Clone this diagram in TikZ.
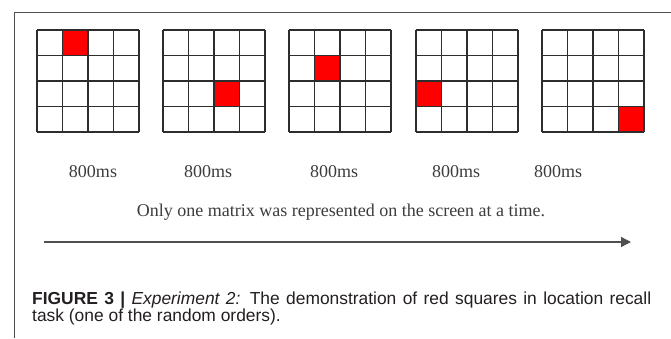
\documentclass[tikz,border=0pt]{standalone}
\usepackage{fontspec}
\setmainfont{Liberation Serif}
\newfontfamily\capfont{Liberation Sans}
\usetikzlibrary{arrows.meta}
\definecolor{cgrid}{RGB}{45,45,45}
\definecolor{cred}{RGB}{255,0,0}
\definecolor{cframe}{RGB}{80,80,80}
\definecolor{ctext}{RGB}{60,60,60}
\definecolor{ccap}{RGB}{35,31,32}

\tikzset{
  cellline/.style={cgrid, line width=1.8pt},
  lbl/.style={font=\fontsize{18}{21}\selectfont, text=ctext, inner sep=0pt},
  caption/.style={font=\capfont\fontsize{17.4}{20}\selectfont, text=ccap,
    anchor=base west, inner sep=0pt}
}

\begin{document}
\begin{tikzpicture}[x=1pt, y=-1pt]
\useasboundingbox (0,0) rectangle (671,338);
\draw[cframe, line width=1pt] (14,338) -- (14,12) -- (671,12);
% five 4x4 matrices, one red square each: left x / red column / red row
\foreach \gx/\rc/\rr in {37/1/0, 163/2/2, 289/1/1, 416/0/2, 542/3/3} {
  \fill[cred] ({\gx+25.5*\rc}, {30+25.5*\rr}) rectangle +(25.5,25.5);
  \foreach \k in {0,...,4} {
    \draw[cellline] ({\gx+25.5*\k}, 30) -- +(0,102);
    \draw[cellline] (\gx, {30+25.5*\k}) -- +(102,0);
  }
}
\node[lbl] (t1) at (93,172) {800ms};
\node[lbl] (t2) at (208,172) {800ms};
\node[lbl] (t3) at (334,172) {800ms};
\node[lbl] (t4) at (456,172) {800ms};
\node[lbl] (t5) at (558,172) {800ms};
\node[lbl] (note) at (341,212) {Only one matrix was represented on the screen at a time.};
\coordinate (a0) at (44,242);
\coordinate (a1) at (631,242);
\draw[-{Triangle[length=10pt, width=10pt]}, cframe, line width=1.3pt] (a0) -- (a1);
\node[caption] (cap1) at (32,304)
  {\makebox[619pt][s]{\textbf{FIGURE 3 |} \textit{Experiment 2:} The demonstration of red squares in location recall}};
\node[caption] (cap2) at (32,321) {task (one of the random orders).};
\end{tikzpicture}
\end{document}
